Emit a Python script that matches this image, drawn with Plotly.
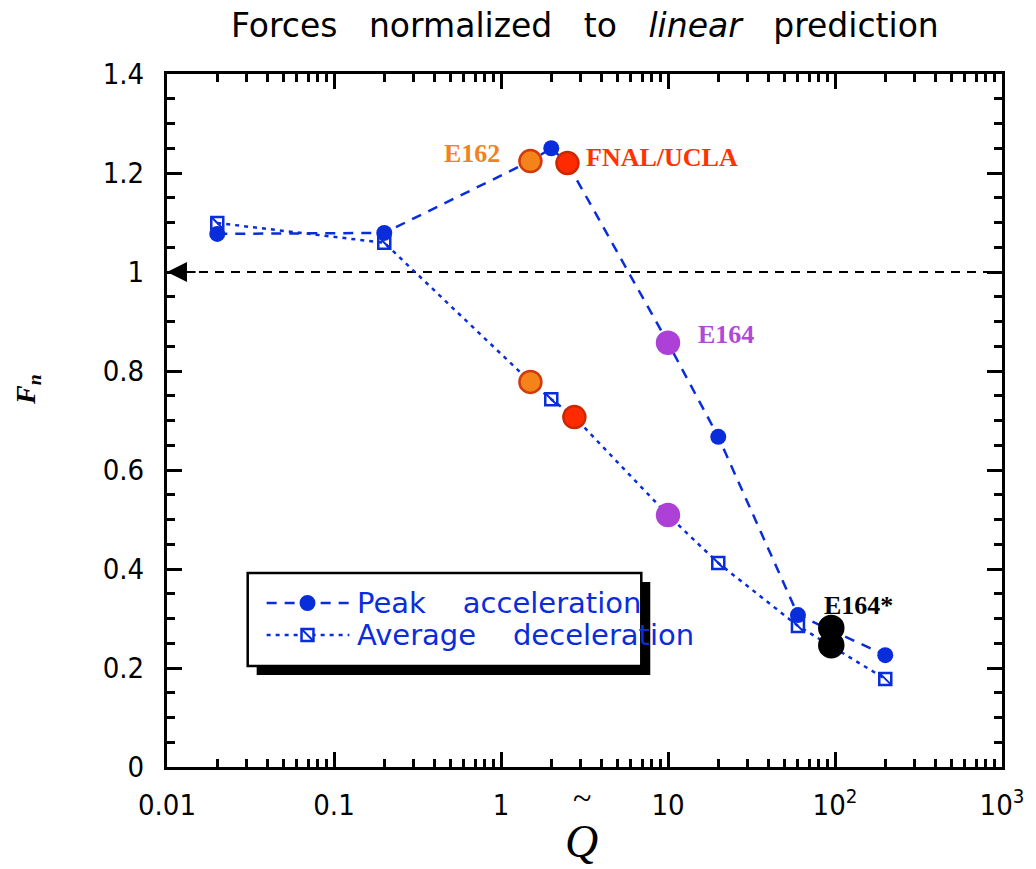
import math
import plotly.graph_objects as go

# Simulation results: peak acceleration and average deceleration vs Q~
peak_q = [0.02, 0.2, 1.5, 2, 2.5, 10, 20, 60, 200]
peak_f = [1.077, 1.079, 1.224, 1.25, 1.22, 0.857, 0.667, 0.307, 0.226]

avg_q = [0.02, 0.2, 1.5, 2, 2.75, 10, 20, 60, 200]
avg_f = [1.099, 1.059, 0.778, 0.743, 0.707, 0.509, 0.412, 0.285, 0.178]

# Experiments (upper value on peak curve, lower on average curve)
exp_names = ["E162", "FNAL/UCLA", "E164", "E164*"]
exp_q_peak = [1.5, 2.5, 10, 95]
exp_q_avg = [1.5, 2.75, 10, 95]
exp_f_peak = [1.224, 1.22, 0.857, 0.281]
exp_f_avg = [0.778, 0.707, 0.509, 0.246]
exp_fill = ["#f4841a", "#ff2a00", "#ad40d6", "#000000"]
exp_edge = ["#d23a0c", "#cc2800", "#ad40d6", "#000000"]
exp_size = [22, 22, 22, 24]
exp_label_color = ["#f0831f", "#ff3300", "#b048d8", "#000000"]
# label anchor points (Q, F) and horizontal alignment
exp_label_q = [1.01, 3.16, 14.7, 84.0]
exp_label_f = [1.240, 1.232, 0.873, 0.327]
exp_label_anchor = ["right", "left", "left", "left"]

x_ticks = [0.01, 0.1, 1, 10, 100, 1000]
x_ticktext = ["0.01", "0.1", "1", "10", "10<sup>2</sup>", "10<sup>3</sup>"]
x_minor = [m * d for d in [0.01, 0.1, 1, 10, 100] for m in range(2, 10)]

BLUE = "#0a2ddc"
SANS = "DejaVu Sans, Noto Sans, sans-serif"
SERIF = "Liberation Serif, Times New Roman, serif"

fig = go.Figure()

# reference level F_n = 1
fig.add_trace(go.Scatter(x=[0.01, 1000], y=[1, 1], mode="lines",
                         line=dict(color="black", width=2, dash="9px,7px"),
                         showlegend=False, hoverinfo="skip"))

fig.add_trace(go.Scatter(x=peak_q, y=peak_f, mode="lines+markers",
                         name="Peak acceleration", showlegend=False,
                         line=dict(color=BLUE, width=2.5, dash="10px,8px"),
                         marker=dict(symbol="circle", size=16, color=BLUE)))
fig.add_trace(go.Scatter(x=avg_q, y=avg_f, mode="lines+markers",
                         name="Average deceleration", showlegend=False,
                         line=dict(color=BLUE, width=2.5, dash="4px,5px"),
                         marker=dict(symbol="square-open", size=12, color=BLUE,
                                     line=dict(width=2.5, color=BLUE))))
fig.add_trace(go.Scatter(x=avg_q, y=avg_f, mode="markers", showlegend=False,
                         marker=dict(symbol="line-nw", size=11,
                                     line=dict(width=2, color=BLUE))))

for i, name in enumerate(exp_names):
    fig.add_trace(go.Scatter(
        x=[exp_q_peak[i], exp_q_avg[i]], y=[exp_f_peak[i], exp_f_avg[i]],
        mode="markers", showlegend=False, name=name,
        marker=dict(size=exp_size[i], color=exp_fill[i],
                    line=dict(width=2.5, color=exp_edge[i]))))

# experiment labels (annotation x on a log axis is given in log10 units)
for i, name in enumerate(exp_names):
    fig.add_annotation(x=math.log10(exp_label_q[i]), y=exp_label_f[i], xref="x", yref="y",
                       text=f"<b>{name}</b>", showarrow=False,
                       xanchor=exp_label_anchor[i], yanchor="middle",
                       font=dict(family=SERIF, size=26, color=exp_label_color[i]))

# arrow on the reference line at the left axis
fig.add_annotation(x=-2, y=1, ax=-1.82, ay=1, xref="x", yref="y", axref="x", ayref="y",
                   text="", showarrow=True, arrowhead=2, arrowsize=2, arrowwidth=2,
                   arrowcolor="black")

# legend: frame with drop shadow, line samples and labels
def px_x(px):
    return (px - 167) / 838


def px_y(py):
    return (767 - py) / 693


L, R, B, T = px_x(248), px_x(643), px_y(666), px_y(573)
dx, dy = 9 / 838, 9 / 693
fig.add_shape(type="rect", xref="paper", yref="paper", x0=L + dx, x1=R + dx,
              y0=B - dy, y1=T - dy, fillcolor="black", line=dict(width=0), layer="below")
fig.add_shape(type="rect", xref="paper", yref="paper", x0=L, x1=R, y0=B, y1=T,
              fillcolor="white", line=dict(width=2.5, color="black"), layer="below")

legend_rows = [
    ("Peak    acceleration", 603, "10px,8px", "circle"),
    ("Average    deceleration", 635, "4px,5px", "square"),
]
for text, row_y, dash, sym in legend_rows:
    yy = px_y(row_y)
    fig.add_shape(type="line", xref="paper", yref="paper", x0=px_x(267), x1=px_x(350),
                  y0=yy, y1=yy, line=dict(color=BLUE, width=2.5, dash=dash), layer="above")
    if sym == "circle":
        fig.add_shape(type="circle", xref="paper", yref="paper",
                      x0=px_x(300), x1=px_x(316), y0=px_y(row_y + 8), y1=px_y(row_y - 8),
                      fillcolor=BLUE, line=dict(width=0), layer="above")
    else:
        fig.add_shape(type="rect", xref="paper", yref="paper",
                      x0=px_x(302), x1=px_x(314), y0=px_y(row_y + 6), y1=px_y(row_y - 6),
                      fillcolor="white", line=dict(width=2.5, color=BLUE), layer="above")
        fig.add_shape(type="line", xref="paper", yref="paper",
                      x0=px_x(302), x1=px_x(314), y0=px_y(row_y - 6), y1=px_y(row_y + 6),
                      line=dict(width=2, color=BLUE), layer="above")
    fig.add_annotation(x=px_x(356), y=yy, xref="paper", yref="paper", text=text,
                       showarrow=False, xanchor="left", yanchor="middle",
                       font=dict(family=SANS, size=29, color=BLUE))

# title and axis titles
fig.add_annotation(x=0.5, y=1, xref="paper", yref="paper", yshift=49, showarrow=False,
                   xanchor="center", yanchor="middle",
                   text="Forces   normalized   to   <i>linear</i>   prediction",
                   font=dict(family=SANS, size=33, color="black"))
fig.add_annotation(x=px_x(583), y=0, xref="paper", yref="paper", yshift=-30, showarrow=False,
                   xanchor="center", yanchor="middle",
                   text="~", font=dict(family=SERIF, size=34, color="black"))
fig.add_annotation(x=px_x(583), y=0, xref="paper", yref="paper", yshift=-74, showarrow=False,
                   xanchor="center", yanchor="middle",
                   text="<i>Q</i>", font=dict(family=SERIF, size=46, color="black"))
fig.add_annotation(x=0, y=px_y(390), xref="paper", yref="paper", xshift=-139, showarrow=False,
                   xanchor="center", yanchor="middle",
                   textangle=-90, text="<b><i>F</i></b><sub><b><i>n</i></b></sub>",
                   font=dict(family=SERIF, size=28, color="black"))

tick_font = dict(family="Liberation Sans Narrow, Arial Narrow, DejaVu Sans Condensed, sans-serif",
                 size=29, color="black")

fig.update_xaxes(type="log", range=[-2, 3], tickvals=x_ticks, ticktext=x_ticktext,
                 ticks="inside", ticklen=15, tickwidth=2.5, tickcolor="black",
                 showline=True, linewidth=3, linecolor="black", mirror="allticks",
                 showgrid=False, zeroline=False, tickfont=tick_font, ticklabelstandoff=10,
                 minor=dict(tickvals=x_minor, ticks="inside", ticklen=8,
                            tickwidth=2.5, tickcolor="black", showgrid=False))
fig.update_yaxes(range=[0, 1.4], dtick=0.2, tick0=0,
                 ticks="inside", ticklen=15, tickwidth=2.5, tickcolor="black",
                 showline=True, linewidth=3, linecolor="black", mirror="allticks",
                 showgrid=False, zeroline=False, tickfont=tick_font, ticklabelstandoff=14,
                 minor=dict(dtick=0.05, ticks="inside", ticklen=8,
                            tickwidth=2.5, tickcolor="black", showgrid=False))

fig.update_layout(
    width=1036, height=869,
    margin=dict(l=167, r=31, t=74, b=102),
    paper_bgcolor="white", plot_bgcolor="white",
    showlegend=False,
)

fig.write_html("out.html")
